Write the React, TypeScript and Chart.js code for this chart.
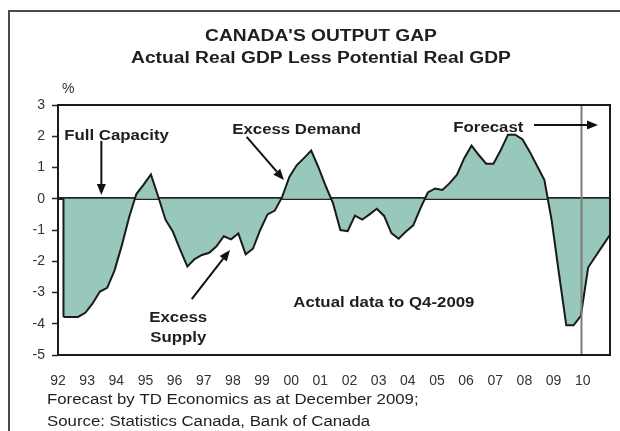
import React, { useEffect, useRef } from "react";
import { Chart, registerables } from "chart.js";

Chart.register(...registerables);

// ---- data ----
const yearLabels = ["92", "93", "94", "95", "96", "97", "98", "99", "00", "01", "02", "03", "04", "05", "06", "07", "08", "09", "10"];

// quarterly output gap, 1992Q1 .. 2010Q4 (%)
const gapValues = [
  -3.78, -3.78, -3.78, -3.65, -3.35, -2.97, -2.85, -2.3, -1.5, -0.6,
  0.15, 0.45, 0.78, 0.07, -0.67, -1.05, -1.62, -2.17, -1.93, -1.8,
  -1.73, -1.52, -1.2, -1.3, -1.11, -1.78, -1.6, -1.0, -0.5, -0.38,
  0.05, 0.7, 1.07, 1.3, 1.54, 1.0, 0.4, -0.15, -1.0, -1.04,
  -0.54, -0.67, -0.5, -0.32, -0.55, -1.1, -1.28, -1.05, -0.85, -0.3,
  0.2, 0.33, 0.28, 0.5, 0.77, 1.3, 1.7, 1.4, 1.12, 1.12,
  1.55, 2.05, 2.05, 1.9, 1.5, 1.05, 0.6, -0.7, -2.4, -4.05,
  -4.05, -3.75, -2.2, -1.85, -1.5, -1.15,
];

const lastActualIndex = 71; // Q4-2009
const yMin = -5;
const yMax = 3;

const titleText = "CANADA'S OUTPUT GAP";
const subtitleText = "Actual Real GDP Less Potential Real GDP";
const unitText = "%";
const footnotes = ["Forecast by TD Economics as at December 2009;", "Source: Statistics Canada, Bank of Canada"];

// annotation texts: position in (quarter index, value) data units
const noteTexts = [
  { text: "Full Capacity", i: 0.11, v: 1.88, align: "left" },
  { text: "Excess Demand", i: 23.16, v: 2.06, align: "left" },
  { text: "Excess", i: 15.75, v: -3.93, align: "center" },
  { text: "Supply", i: 15.75, v: -4.57, align: "center" },
  { text: "Actual data to Q4-2009", i: 31.54, v: -3.45, align: "left" },
  { text: "Forecast", i: 53.5, v: 2.15, align: "left" },
];

// arrows: from (i1,v1) to tip (i2,v2)
const noteArrows = [
  { i1: 5.2, v1: 1.85, i2: 5.2, v2: 0.12 },
  { i1: 25.14, v1: 1.98, i2: 30.26, v2: 0.6 },
  { i1: 17.6, v1: -3.21, i2: 22.85, v2: -1.64 },
  { i1: 64.57, v1: 2.36, i2: 73.35, v2: 2.36 },
];

const FONT = "'Liberation Sans', Arial, Helvetica, sans-serif";
const STRETCH = 1.2;
const TEXT_COLOR = "#1e1e1e";

function drawStretchedText(ctx: CanvasRenderingContext2D, text: string, x: number, y: number, font: string, align: string) {
  ctx.save();
  ctx.font = font;
  ctx.textBaseline = "alphabetic";
  ctx.textAlign = "left";
  const w = ctx.measureText(text).width * STRETCH;
  const left = align === "center" ? x - w / 2 : x;
  ctx.translate(left, y);
  ctx.scale(STRETCH, 1);
  ctx.fillStyle = TEXT_COLOR;
  ctx.fillText(text, 0, 0);
  ctx.restore();
}

function drawArrow(ctx: CanvasRenderingContext2D, x1: number, y1: number, x2: number, y2: number) {
  const ang = Math.atan2(y2 - y1, x2 - x1);
  const headLen = 11;
  const headHalf = 4.5;
  const bx = x2 - headLen * Math.cos(ang);
  const by = y2 - headLen * Math.sin(ang);
  ctx.save();
  ctx.strokeStyle = "#111";
  ctx.fillStyle = "#111";
  ctx.lineWidth = 2;
  ctx.beginPath();
  ctx.moveTo(x1, y1);
  ctx.lineTo(bx, by);
  ctx.stroke();
  ctx.beginPath();
  ctx.moveTo(x2, y2);
  ctx.lineTo(bx + headHalf * Math.sin(ang), by - headHalf * Math.cos(ang));
  ctx.lineTo(bx - headHalf * Math.sin(ang), by + headHalf * Math.cos(ang));
  ctx.closePath();
  ctx.fill();
  ctx.restore();
}

export default function App() {
  const canvasRef = useRef<HTMLCanvasElement>(null);

  useEffect(() => {
    const canvas = canvasRef.current;
    if (!canvas) return;

    const decor = {
      id: "decor",
      afterDatasetsDraw(chart: any) {
        const { ctx, chartArea: a, scales } = chart;
        const xs = scales.x;
        const ys = scales.y;
        ctx.save();
        // forecast separator
        const fx = Math.round(xs.getPixelForValue(lastActualIndex)) + 0.5;
        ctx.strokeStyle = "#7c7c7c";
        ctx.lineWidth = 2;
        ctx.beginPath();
        ctx.moveTo(fx, a.top);
        ctx.lineTo(fx, a.bottom);
        ctx.stroke();
        // left edge of the area
        const x0 = xs.getPixelForValue(0);
        ctx.strokeStyle = "#1a1a1a";
        ctx.lineWidth = 2;
        ctx.beginPath();
        ctx.moveTo(x0, ys.getPixelForValue(0));
        ctx.lineTo(x0, ys.getPixelForValue(gapValues[0]));
        ctx.stroke();
        ctx.restore();
      },
      afterDraw(chart: any) {
        const { ctx, chartArea: a, scales } = chart;
        const xs = scales.x;
        const ys = scales.y;
        ctx.save();
        // plot box
        ctx.strokeStyle = "#1a1a1a";
        ctx.lineWidth = 2;
        ctx.strokeRect(a.left, a.top, a.right - a.left, a.bottom - a.top);

        // annotations
        noteTexts.forEach((n) => {
          drawStretchedText(ctx, n.text, xs.getPixelForValue(n.i), ys.getPixelForValue(n.v), "bold 14px " + FONT, n.align);
        });
        noteArrows.forEach((r) => {
          drawArrow(ctx, xs.getPixelForValue(r.i1), ys.getPixelForValue(r.v1), xs.getPixelForValue(r.i2), ys.getPixelForValue(r.v2));
        });

        // titles
        drawStretchedText(ctx, titleText, 321, 41, "bold 16px " + FONT, "center");
        drawStretchedText(ctx, subtitleText, 321, 63, "bold 16px " + FONT, "center");

        // unit
        ctx.font = "14px " + FONT;
        ctx.fillStyle = "#333";
        ctx.textAlign = "left";
        ctx.textBaseline = "alphabetic";
        ctx.fillText(unitText, 62, 93);

        // footnotes
        footnotes.forEach((t, k) => {
          drawStretchedText(ctx, t, 47, 404 + k * 22, "14px " + FONT, "left");
        });

        // outer frame (top and left edges)
        ctx.strokeStyle = "#4a4a4a";
        ctx.lineWidth = 2;
        ctx.beginPath();
        ctx.moveTo(9, 431);
        ctx.lineTo(9, 11);
        ctx.lineTo(620, 11);
        ctx.stroke();
        ctx.restore();
      },
    };

    const chart = new Chart(canvas, {
      type: "line",
      data: {
        datasets: [
          {
            data: gapValues.map((v, i) => ({ x: i, y: v })),
            borderColor: "#1a1a1a",
            borderWidth: 2,
            backgroundColor: "#98c8bb",
            fill: "origin",
            pointRadius: 0,
            tension: 0,
          },
        ],
      },
      options: {
        animation: false,
        responsive: false,
        events: [],
        layout: { padding: { top: 105, right: 10, left: 0, bottom: 0 } },
        plugins: {
          legend: { display: false },
          tooltip: { enabled: false },
          title: { display: false },
        },
        scales: {
          x: {
            type: "linear",
            min: -0.75,
            max: 75,
            afterBuildTicks: (scale: any) => {
              scale.ticks = yearLabels.map((_, k) => ({ value: k * 4 - 0.75 }));
            },
            afterFit: (scale: any) => {
              scale.height = 76;
            },
            grid: { display: false, drawTicks: false },
            border: { display: false },
            ticks: {
              autoSkip: false,
              maxRotation: 0,
              padding: 18,
              color: "#333",
              font: { family: FONT, size: 14 },
              callback: (_v: any, index: number) => yearLabels[index],
            },
          },
          y: {
            min: yMin,
            max: yMax,
            z: 1,
            afterFit: (scale: any) => {
              scale.width = 58;
            },
            border: { display: false },
            grid: {
              color: (c: any) => (c.tick && c.tick.value === 0 ? "#262626" : "rgba(0,0,0,0)"),
              lineWidth: (c: any) => (c.tick && c.tick.value === 0 ? 3 : 1),
              tickColor: "#222",
              tickWidth: 1.5,
              tickLength: 6,
            },
            ticks: {
              stepSize: 1,
              padding: 7,
              color: "#333",
              font: { family: FONT, size: 14 },
            },
          },
        },
      },
      plugins: [decor],
    } as any);

    return () => chart.destroy();
  }, []);

  return (
    <div style={{ position: "absolute", left: 0, top: 0, width: 620, height: 431, background: "#fff" }}>
      <canvas ref={canvasRef} width={620} height={431} style={{ display: "block" }} />
    </div>
  );
}
